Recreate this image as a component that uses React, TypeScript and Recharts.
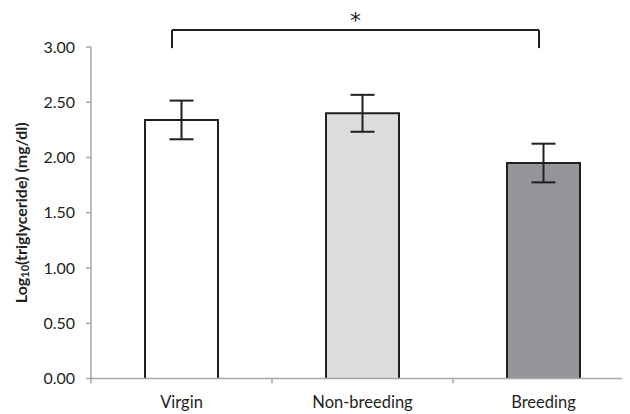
import React from 'react';
import { BarChart, Bar, XAxis, YAxis, ErrorBar, Cell, ReferenceLine } from 'recharts';

const categories = ['Virgin', 'Non-breeding', 'Breeding'];
const positions = [0.5, 1.5, 2.5];
const means = [2.34, 2.40, 1.95];
const errors = [0.175, 0.167, 0.175];
const barColors = ['#ffffff', '#dcdddf', '#939598'];
const yTicks = [0, 0.5, 1, 1.5, 2, 2.5, 3];
const xTicks = [0, 0.5, 1, 1.5, 2, 2.5, 3];
// significance bracket
const bracketX = [0.4475, 2.475];
const bracketY = [2.99, 3.154];

const data = categories.map((c, i) => ({ name: c, pos: positions[i], value: means[i], err: errors[i] }));

const FONT = 'Lato, "Open Sans", sans-serif';
const INK = '#231f20';
const AXIS = '#a7a7a7';

const XTick = (props: any) => {
  const { x, y, payload } = props;
  const v = payload.value;
  const idx = positions.indexOf(v);
  if (idx < 0) {
    return <line x1={x} x2={x} y1={y - 8} y2={y - 3} stroke={AXIS} strokeWidth={1.5} />;
  }
  return (
    <text x={x} y={y + 21} textAnchor="middle" fill={INK} fontFamily={FONT} fontSize={16.5}>
      {categories[idx]}
    </text>
  );
};

const OpenBar = (props: any) => {
  const { x, y, width, height, fill } = props;
  if (width == null || height == null) return null;
  const b = y + height;
  return (
    <g>
      <rect x={x} y={y} width={width} height={height} fill={fill} />
      <path
        d={`M${x},${b} L${x},${y} L${x + width},${y} L${x + width},${b}`}
        fill="none"
        stroke={INK}
        strokeWidth={2}
      />
    </g>
  );
};

const YLabel = (props: any) => {
  const vb = props.viewBox || {};
  const cy = vb.y + vb.height / 2;
  const cx = 20;
  return (
    <text
      transform={`translate(${cx},${cy}) rotate(-90)`}
      textAnchor="middle"
      dominantBaseline="central"
      fill={INK}
      fontFamily={FONT}
      fontWeight="bold"
      fontSize={16}
    >
      <tspan>Log</tspan>
      <tspan fontSize={11} dy={4}>10</tspan>
      <tspan dy={-4}>(triglyceride) (mg/dl)</tspan>
    </text>
  );
};

export default function App() {
  return (
    <div style={{ margin: '-8px 0 0 -8px', width: 630, height: 414, overflow: 'hidden' }}>
      <BarChart
        width={638}
        height={414}
        data={data}
        margin={{ top: 47, right: 4, left: 31, bottom: 0 }}
      >
        <Bar dataKey="value" barSize={73} shape={<OpenBar />} isAnimationActive={false}>
          {data.map((d, i) => (
            <Cell key={d.name} fill={barColors[i]} />
          ))}
          <ErrorBar dataKey="err" direction="y" width={12} stroke={INK} strokeWidth={2} />
        </Bar>
        <XAxis
          dataKey="pos"
          type="number"
          domain={[0, 3]}
          allowDataOverflow
          ticks={xTicks}
          interval={0}
          height={35.5}
          stroke={AXIS}
          strokeWidth={1.5}
          tickLine={false}
          tick={<XTick />}
        />
        <YAxis
          width={60}
          domain={[0, 3]}
          ticks={yTicks}
          interval={0}
          tickFormatter={(v: number) => v.toFixed(2)}
          stroke={AXIS}
          strokeWidth={1.5}
          tickSize={5}
          tickMargin={11}
          tick={{ fill: INK, fontFamily: FONT, fontSize: 16 }}
          label={<YLabel />}
        />
        <ReferenceLine
          segment={[{ x: bracketX[0], y: bracketY[1] }, { x: bracketX[1], y: bracketY[1] }]}
          stroke={INK}
          strokeWidth={2}
          ifOverflow="visible"
          label={{ value: '*', position: 'top', offset: 2, fontSize: 22, fill: INK, fontFamily: '"DejaVu Sans", sans-serif' }}
        />
        <ReferenceLine
          segment={[{ x: bracketX[0], y: bracketY[1] }, { x: bracketX[0], y: bracketY[0] }]}
          stroke={INK}
          strokeWidth={2}
          ifOverflow="visible"
        />
        <ReferenceLine
          segment={[{ x: bracketX[1], y: bracketY[1] }, { x: bracketX[1], y: bracketY[0] }]}
          stroke={INK}
          strokeWidth={2}
          ifOverflow="visible"
        />
      </BarChart>
    </div>
  );
}
